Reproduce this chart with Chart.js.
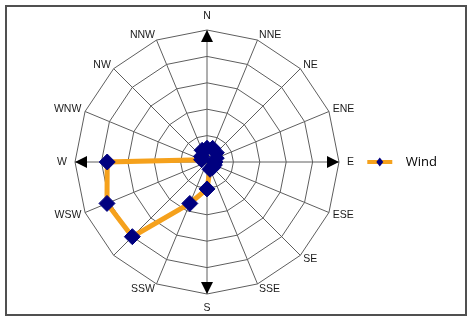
<!DOCTYPE html>
<html>
<head>
<meta charset="utf-8">
<script src="https://cdn.jsdelivr.net/npm/chart.js@4.4.1/dist/chart.umd.min.js"></script>
<style>
  html, body { margin: 0; padding: 0; background: #fff; }
  #wrap { position: relative; width: 474px; height: 322px; }
  #wrap canvas { position: absolute; left: 0; top: 0; }
  #frame {
    position: absolute; left: 5px; top: 5px; width: 458px; height: 307px;
    border: 2px solid #505050; pointer-events: none;
  }
</style>
</head>
<body>
<div id="wrap">
  <canvas id="windChart" width="474" height="322"></canvas>
  <div id="frame"></div>
</div>
<script>
const directions = ['N', 'NNE', 'NE', 'ENE', 'E', 'ESE', 'SE', 'SSE',
  'S', 'SSW', 'SW', 'WSW', 'W', 'WNW', 'NW', 'NNW'];
// SW spoke has no label in the original
const shownLabels = ['N', 'NNE', 'NE', 'ENE', 'E', 'ESE', 'SE', 'SSE',
  'S', 'SSW', '', 'WSW', 'W', 'WNW', 'NW', 'NNW'];
const windValues = [2.6, 2.8, 2.5, 1.9, 1.5, 1.5, 1.5, 1.5,
  5.1, 8.5, 20.0, 20.5, 18.9, 1.1, 1.5, 2.4];
const cardinalLabels = ['N', 'E', 'S', 'W'];
const scaleMax = 25;
const scaleStep = 5;

const lineColor = '#F5A11C';
const markerColor = '#00007F';
const gridColor = '#5e5e5e';

// spoke labels, placed just outside the outer ring
const directionLabels = {
  id: 'directionLabels',
  afterDraw(chart) {
    const { ctx } = chart;
    const scale = chart.scales.r;
    ctx.save();
    ctx.font = '10.5px "Liberation Sans", Arial, sans-serif';
    ctx.fillStyle = '#1a1a1a';
    ctx.textBaseline = 'middle';
    shownLabels.forEach((label, i) => {
      if (!label) return;
      const cardinal = cardinalLabels.includes(label);
      const p = scale.getPointPosition(i, scale.drawingArea + (cardinal ? 8 : 4));
      const angle = scale.getIndexAngle(i);
      const s = Math.sin(angle);
      const c = Math.cos(angle);
      ctx.textAlign = Math.abs(s) < 0.01 ? 'center' : (s > 0 ? 'left' : 'right');
      ctx.fillText(label, p.x, p.y - c * (cardinal ? 6 : 1.5));
    });
    ctx.restore();
  },
};

// black arrow heads at the ends of the N, E, S, W spokes
const compassArrows = {
  id: 'compassArrows',
  beforeDatasetsDraw(chart) {
    const { ctx } = chart;
    const scale = chart.scales.r;
    const r = scale.drawingArea;
    ctx.save();
    ctx.fillStyle = '#000';
    directions.forEach((label, i) => {
      if (!cardinalLabels.includes(label)) return;
      const tip = scale.getPointPosition(i, r);
      const base = scale.getPointPosition(i, r - 12);
      const a = tip.angle + Math.PI / 2;
      const dx = Math.cos(a) * 6;
      const dy = Math.sin(a) * 6;
      ctx.beginPath();
      ctx.moveTo(tip.x, tip.y);
      ctx.lineTo(base.x + dx, base.y + dy);
      ctx.lineTo(base.x - dx, base.y - dy);
      ctx.closePath();
      ctx.fill();
    });
    ctx.restore();
  },
};

// legend marker: orange line with a small navy diamond
const legendMarker = {
  id: 'legendMarker',
  afterDraw(chart) {
    const { ctx } = chart;
    const boxes = chart.legend && chart.legend.legendHitBoxes;
    if (!boxes || !boxes.length) return;
    const hb = boxes[0];
    const y = hb.top + hb.height / 2;
    const x0 = hb.left;
    const x1 = hb.left + 25;
    const xm = (x0 + x1) / 2;
    ctx.save();
    ctx.strokeStyle = lineColor;
    ctx.lineWidth = 4;
    ctx.beginPath();
    ctx.moveTo(x0, y);
    ctx.lineTo(x1, y);
    ctx.stroke();
    ctx.fillStyle = markerColor;
    ctx.beginPath();
    ctx.moveTo(xm, y - 4.5);
    ctx.lineTo(xm + 3.5, y);
    ctx.lineTo(xm, y + 4.5);
    ctx.lineTo(xm - 3.5, y);
    ctx.closePath();
    ctx.fill();
    ctx.restore();
  },
};

new Chart(document.getElementById('windChart'), {
  type: 'radar',
  data: {
    labels: directions,
    datasets: [
      {
        label: 'Wind',
        data: windValues,
        borderColor: lineColor,
        borderWidth: 5,
        fill: false,
        tension: 0,
        pointStyle: 'rectRot',
        pointRadius: 8,
        pointBackgroundColor: markerColor,
        pointBorderColor: markerColor,
        pointBorderWidth: 1,
      },
    ],
  },
  options: {
    responsive: false,
    animation: false,
    layout: { padding: { left: 58, top: 30, right: 27, bottom: 28 } },
    plugins: {
      tooltip: { enabled: false },
      legend: {
        position: 'right',
        labels: {
          boxWidth: 32,
          boxHeight: 4,
          padding: 10,
          color: '#333',
          font: { family: '"Open Sans", sans-serif', size: 13 },
          generateLabels: (chart) => chart.data.datasets.map((ds, i) => ({
            text: ds.label,
            fillStyle: 'rgba(0,0,0,0)',
            strokeStyle: 'rgba(0,0,0,0)',
            lineWidth: 0,
            datasetIndex: i,
          })),
        },
      },
    },
    scales: {
      r: {
        min: 0,
        max: scaleMax,
        ticks: { stepSize: scaleStep, display: false },
        grid: { color: gridColor, lineWidth: 1 },
        angleLines: { color: gridColor, lineWidth: 1 },
        pointLabels: { display: false },
      },
    },
  },
  plugins: [compassArrows, directionLabels, legendMarker],
});
</script>
</body>
</html>
